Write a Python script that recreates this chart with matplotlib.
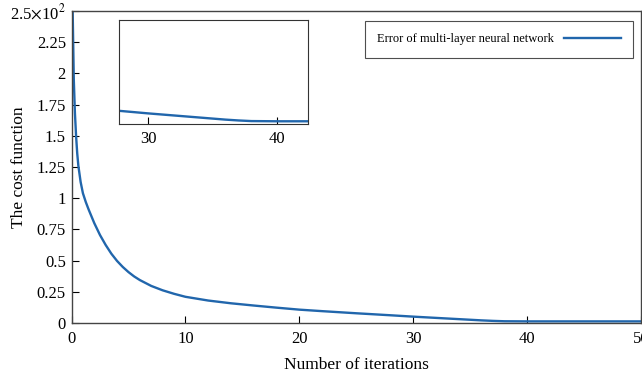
import numpy as np
import matplotlib.pyplot as plt

plt.rcParams['font.family'] = ['Liberation Serif', 'DejaVu Serif']
plt.rcParams['mathtext.fontset'] = 'stix'

# data
iterations = [0, 0.1, 0.2, 0.3, 0.4, 0.5, 0.6, 0.8, 1.0, 1.25, 1.5, 2.0, 2.5, 3.0,
              3.5, 4.0, 4.5, 5.0, 5.5, 6, 7, 8, 9, 10, 12, 14, 16, 18, 20, 22,
              25, 28, 30, 32, 34, 36, 37, 38, 40, 45, 50]
cost = [3.3, 2.5, 1.95, 1.68, 1.50, 1.36, 1.26, 1.13, 1.04, 0.97, 0.91, 0.80,
        0.705, 0.625, 0.555, 0.497, 0.449, 0.408, 0.373, 0.344, 0.297, 0.262,
        0.234, 0.21, 0.18, 0.158, 0.14, 0.123, 0.107, 0.095, 0.078, 0.062,
        0.051, 0.041, 0.031, 0.021, 0.017, 0.014, 0.013, 0.013, 0.013]

y_ticks = [0, 0.25, 0.5, 0.75, 1, 1.25, 1.5, 1.75, 2, 2.25, 2.5]
y_labels = ['0', '0.25', '0.5', '0.75', '1', '1.25', '1.5', '1.75', '2', '2.25',
            r'2.5$\times$10$^{2}$']
x_ticks = [0, 10, 20, 30, 40, 50]
inset_ticks = [30, 40]

line_color = '#2166ac'

fig = plt.figure(figsize=(6.42, 3.78), dpi=100)
ax = fig.add_axes([0.1114, 0.1455, 0.887, 0.8254])
ax.plot(iterations, cost, color=line_color, lw=1.7,
        label='Error of multi-layer neural network')
ax.set_xlim(0, 50)
ax.set_ylim(0, 2.5)
ax.set_xticks(x_ticks)
ax.set_yticks(y_ticks)
ax.set_yticklabels(y_labels)
ax.tick_params(direction='in', length=5, labelsize=12, top=False, right=False)
ax.tick_params(axis='x', pad=6)
ax.tick_params(axis='y', pad=4)
ax.set_xlabel('Number of iterations', fontsize=12.5)
ax.set_ylabel('The cost function', fontsize=12.5)
ax.xaxis.set_label_coords(0.5, -0.109)
ax.yaxis.set_label_coords(-0.078, 0.5)
for s in ax.spines.values():
    s.set_color('#444444')
    s.set_linewidth(1.0)

leg = ax.legend(loc='upper right', bbox_to_anchor=(0.986, 0.968), markerfirst=False,
                fontsize=9, frameon=True, fancybox=False, borderpad=1.0,
                borderaxespad=0, handlelength=4.5)
leg.get_frame().set_edgecolor('#222222')
leg.get_frame().set_linewidth(0.8)

# inset
ax_in = fig.add_axes([0.1854, 0.672, 0.2944, 0.275])
ax_in.plot(iterations, cost, color=line_color, lw=1.7)
ax_in.set_xlim(27.75, 42.4)
ax_in.set_ylim(0, 0.5)
ax_in.set_xticks(inset_ticks)
ax_in.set_yticks([])
ax_in.tick_params(direction='in', length=5, labelsize=12, pad=5)
for s in ax_in.spines.values():
    s.set_color('#333333')
    s.set_linewidth(0.8)

fig.savefig('out.png', dpi=100)
